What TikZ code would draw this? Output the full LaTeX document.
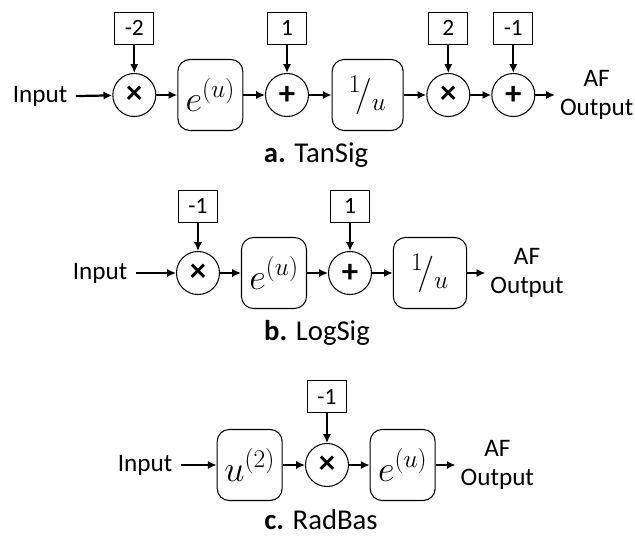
\RequirePackage{fix-cm}
\documentclass[tikz,border=0pt]{standalone}
\usepackage{fontspec}
\setmainfont{Carlito}
\usetikzlibrary{calc,arrows.meta}

\begin{document}
\begin{tikzpicture}[line width=1.9pt,
	op/.style={draw,circle,minimum size=1.29cm,inner sep=0,line width=0.9pt,font=\fontsize{28}{28}\selectfont\bfseries},
	fn/.style={draw,rounded corners=0.36cm,minimum width=1.95cm,minimum height=2.13cm,inner sep=0,line width=0.9pt,font=\fontsize{31}{36}\selectfont},
	coef/.style={draw,minimum width=1.17cm,minimum height=0.96cm,inner sep=0,line width=0.8pt,font=\fontsize{20}{24}\selectfont},
	txt/.style={font=\fontsize{21.5}{25.5}\selectfont,align=center},
	figcap/.style={font=\fontsize{24.5}{29}\selectfont}]
	\tikzset{>={Latex[length=7.5pt,width=7pt]}}
	\useasboundingbox (0,0) rectangle (19.05,-16.08);
	% a. TanSig
	\node [txt] (ina) at (1.2,-2.9) {Input};
	\node [op] (mula) at (4.03,-2.85) {×};
	\node [coef] (ka) at ($(mula) + (0,2.01)$) {-2};
	\node [fn] (expa) at ($(mula) + (2.28,0)$) {$e^{(u)}$};
	\node [op] (adda) at ($(expa) + (2.3,0)$) {+};
	\node [coef] (kb) at ($(adda) + (0,2.01)$) {1};
	\node [fn, minimum width=2.13cm] (inva) at ($(adda) + (2.42,0)$) {${}^{1}\!/{}_{u}$};
	\node [op] (mulb) at ($(inva) + (2.42,0)$) {×};
	\node [coef] (kc) at ($(mulb) + (0,2.01)$) {2};
	\node [op] (addb) at ($(mulb) + (1.95,0)$) {+};
	\node [coef] (kd) at ($(addb) + (0,2.01)$) {-1};
	\node [txt] (outa) at ($(addb) + (2.5,0)$) {AF\\Output};
	\node [figcap] (capa) at (9.48,-4.65) {\textbf{a.} TanSig};
	
	% b. LogSig
	\node [txt] (inb) at (3.0,-8.19) {Input};
	\node [op] (mulc) at (5.94,-8.19) {×};
	\node [coef] (ke) at ($(mulc) + (0,2.0)$) {-1};
	\node [fn] (expb) at ($(mulc) + (2.28,0)$) {$e^{(u)}$};
	\node [op] (addc) at ($(expb) + (2.28,0)$) {+};
	\node [coef] (kf) at ($(addc) + (0,2.0)$) {1};
	\node [fn, minimum width=2.2cm] (invb) at ($(addc) + (2.4,0)$) {${}^{1}\!/{}_{u}$};
	\node [txt] (outb) at ($(invb) + (2.91,0)$) {AF\\Output};
	\node [figcap] (capb) at (9.51,-9.99) {\textbf{b.} LogSig};
	
	% c. RadBas
	\node [txt] (inc) at (4.35,-13.95) {Input};
	\node [fn] (sq) at (7.49,-13.95) {$u^{(2)}$};
	\node [op] (muld) at ($(sq) + (2.32,0)$) {×};
	\node [coef] (kg) at ($(muld) + (0,2.05)$) {-1};
	\node [fn] (expc) at ($(muld) + (2.27,0)$) {$e^{(u)}$};
	\node [txt] (outc) at ($(expc) + (2.84,0)$) {AF\\Output};
	\node [figcap] (capc) at (9.63,-15.6) {\textbf{c.} RadBas};
	
	\draw [->, shorten <=3pt] (ina) -- (mula);
	\draw [->] (ka) -- (mula);
	\draw [->] (mula) -- (expa);
	\draw [->] (expa) -- (adda);
	\draw [->] (kb) -- (adda);
	\draw [->] (adda) -- (inva);
	\draw [->] (inva) -- (mulb);
	\draw [->] (kc) -- (mulb);
	\draw [->] (mulb) -- (addb);
	\draw [->] (kd) -- (addb);
	\draw [->] (addb) -- (outa);
	
	\draw [->, shorten <=3pt] (inb) -- (mulc);
	\draw [->] (ke) -- (mulc);
	\draw [->] (mulc) -- (expb);
	\draw [->] (expb) -- (addc);
	\draw [->] (kf) -- (addc);
	\draw [->] (addc) -- (invb);
	\draw [->] (invb) -- (outb);
	
	\draw [->, shorten <=3pt] (inc) -- (sq);
	\draw [->] (sq) -- (muld);
	\draw [->] (kg) -- (muld);
	\draw [->] (muld) -- (expc);
	\draw [->] (expc) -- (outc);
\end{tikzpicture}
\end{document}
